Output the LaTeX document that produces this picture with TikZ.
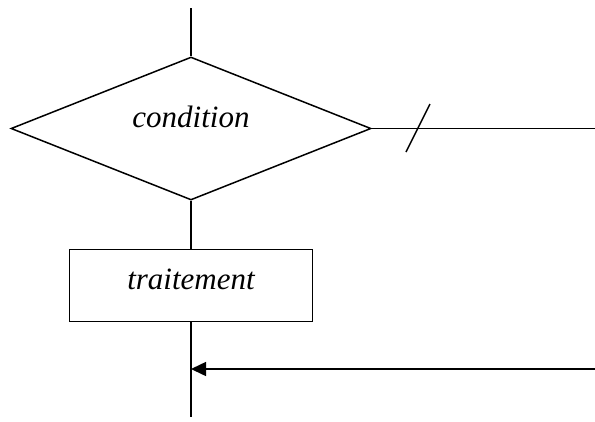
\documentclass[tikz,border=0pt]{standalone}
\usepackage{fontspec}
\setmainfont{Liberation Serif}
\usetikzlibrary{
    shapes.geometric,
    arrows.meta,
    positioning
}
\tikzset{
    flow/.style={line width=1.5bp},
    decision/.style={diamond, shape aspect=2.5, draw=black, line width=1.5bp, inner sep=0pt,
        minimum width=360bp, minimum height=143bp,
        font=\fontsize{31bp}{37bp}\selectfont\itshape, text height=21bp, text depth=23bp},
    process/.style={rectangle, draw=black, line width=1.5bp, inner sep=0pt,
        minimum width=243bp, minimum height=72bp,
        font=\fontsize{31bp}{37bp}\selectfont\itshape, text height=21bp, text depth=14bp}
}
\begin{document}
\begin{tikzpicture}[x=1bp, y=-1bp]
    \useasboundingbox (0,0) rectangle (595,421);
    \node[decision] (cond) at (191,128.5) {condition};
    \node[process, below=48bp of cond] (trt) {traitement};
    \coordinate (top) at (191,8);
    \coordinate (exitr) at (595,128.5);
    \coordinate (s1) at (406,152);
    \coordinate (s2) at (430,104);
    \coordinate (bot) at (191,417);
    \coordinate (loopin) at (595,369);
    \draw[flow] (top) -- (cond.north);
    \draw[flow] (cond.east) -- (exitr);
    \draw[flow] (s1) -- (s2);
    \draw[flow] (cond.south) -- (trt.north);
    \draw[flow] (trt.south) -- (bot);
    \draw[flow, -{Triangle[length=15bp,width=14bp]}] (loopin) -- (trt.south |- loopin);
\end{tikzpicture}
\end{document}
